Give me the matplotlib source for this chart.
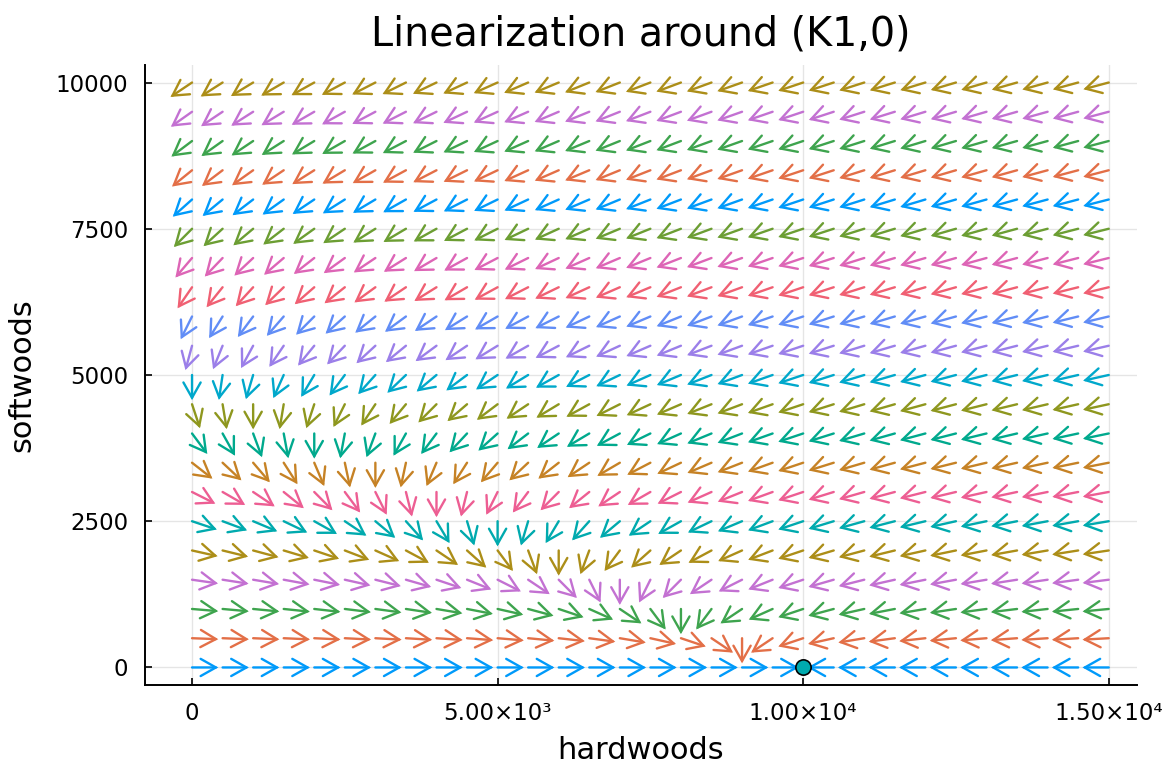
import numpy as np
import matplotlib
matplotlib.use("Agg")
from matplotlib import pyplot as plt

# grid of starting points (one quiver row per softwoods level)
hardwoods = np.arange(0, 15001, 500)
softwoods = np.arange(0, 10001, 500)

K1 = 10000.0
eq_point = [K1, 0.0]
jac = [[-1.0, -2.0],
       [0.0, -0.7]]
arrow_len = 430.0  # arrows are normalised, constant length in data units

xticks = [0, 5000, 10000, 15000]
xticklabels = ['0', '5.00×10³', '1.00×10⁴', '1.50×10⁴']
yticks = [0, 2500, 5000, 7500, 10000]

# Plots.jl default palette
palette = ['#009AFA', '#E36F47', '#3EA44E', '#C371D2', '#AC8E18', '#00AAAE',
           '#ED5E93', '#C68225', '#00A98D', '#8E971E', '#00A8CB', '#9B7FE9',
           '#618DF6', '#F06073', '#DD65B6', '#6C9E33']

plt.rcParams['font.family'] = ['DejaVu Sans']

fig = plt.figure(figsize=(11.72, 7.67), dpi=100)
ax = fig.add_axes([0.1237, 0.1069, 0.8463, 0.8084])

for i, y in enumerate(softwoods):
	col = palette[i % len(palette)]
	for x in hardwoods:
		dx = jac[0][0] * (x - eq_point[0]) + jac[0][1] * (y - eq_point[1])
		dy = jac[1][0] * (x - eq_point[0]) + jac[1][1] * (y - eq_point[1])
		norm = np.hypot(dx, dy)
		if norm == 0:
			continue
		u = dx / norm * arrow_len
		v = dy / norm * arrow_len
		ax.annotate('', xy=(x + u, y + v), xytext=(x, y),
					arrowprops=dict(arrowstyle='->,head_length=1.1,head_width=0.62',
									color=col, lw=1.7, shrinkA=0, shrinkB=0,
									mutation_scale=10, joinstyle='miter'))

ax.plot([eq_point[0]], [eq_point[1]], 'o', color=palette[len(softwoods) % len(palette)],
		markersize=11, markeredgecolor='black', markeredgewidth=1.2, zorder=5)

ax.set_xlim(-770, 15460)
ax.set_ylim(-300, 10300)
ax.set_xticks(xticks)
ax.set_xticklabels(xticklabels)
ax.set_yticks(yticks)
ax.tick_params(direction='in', length=5, width=1.2, labelsize=16.5)
ax.tick_params(axis='y', pad=12)
ax.tick_params(axis='x', pad=12)
ax.grid(True, color='black', alpha=0.1, lw=1)
ax.set_axisbelow(True)
for s in ['top', 'right']:
	ax.spines[s].set_visible(False)
for s in ['left', 'bottom']:
	ax.spines[s].set_linewidth(1.4)

ax.set_title('Linearization around (K1,0)', fontsize=28.5, pad=14)
ax.set_xlabel('hardwoods', fontsize=22, labelpad=8)
ax.set_ylabel('softwoods', fontsize=22, labelpad=14)

fig.savefig('out.png', dpi=100)
